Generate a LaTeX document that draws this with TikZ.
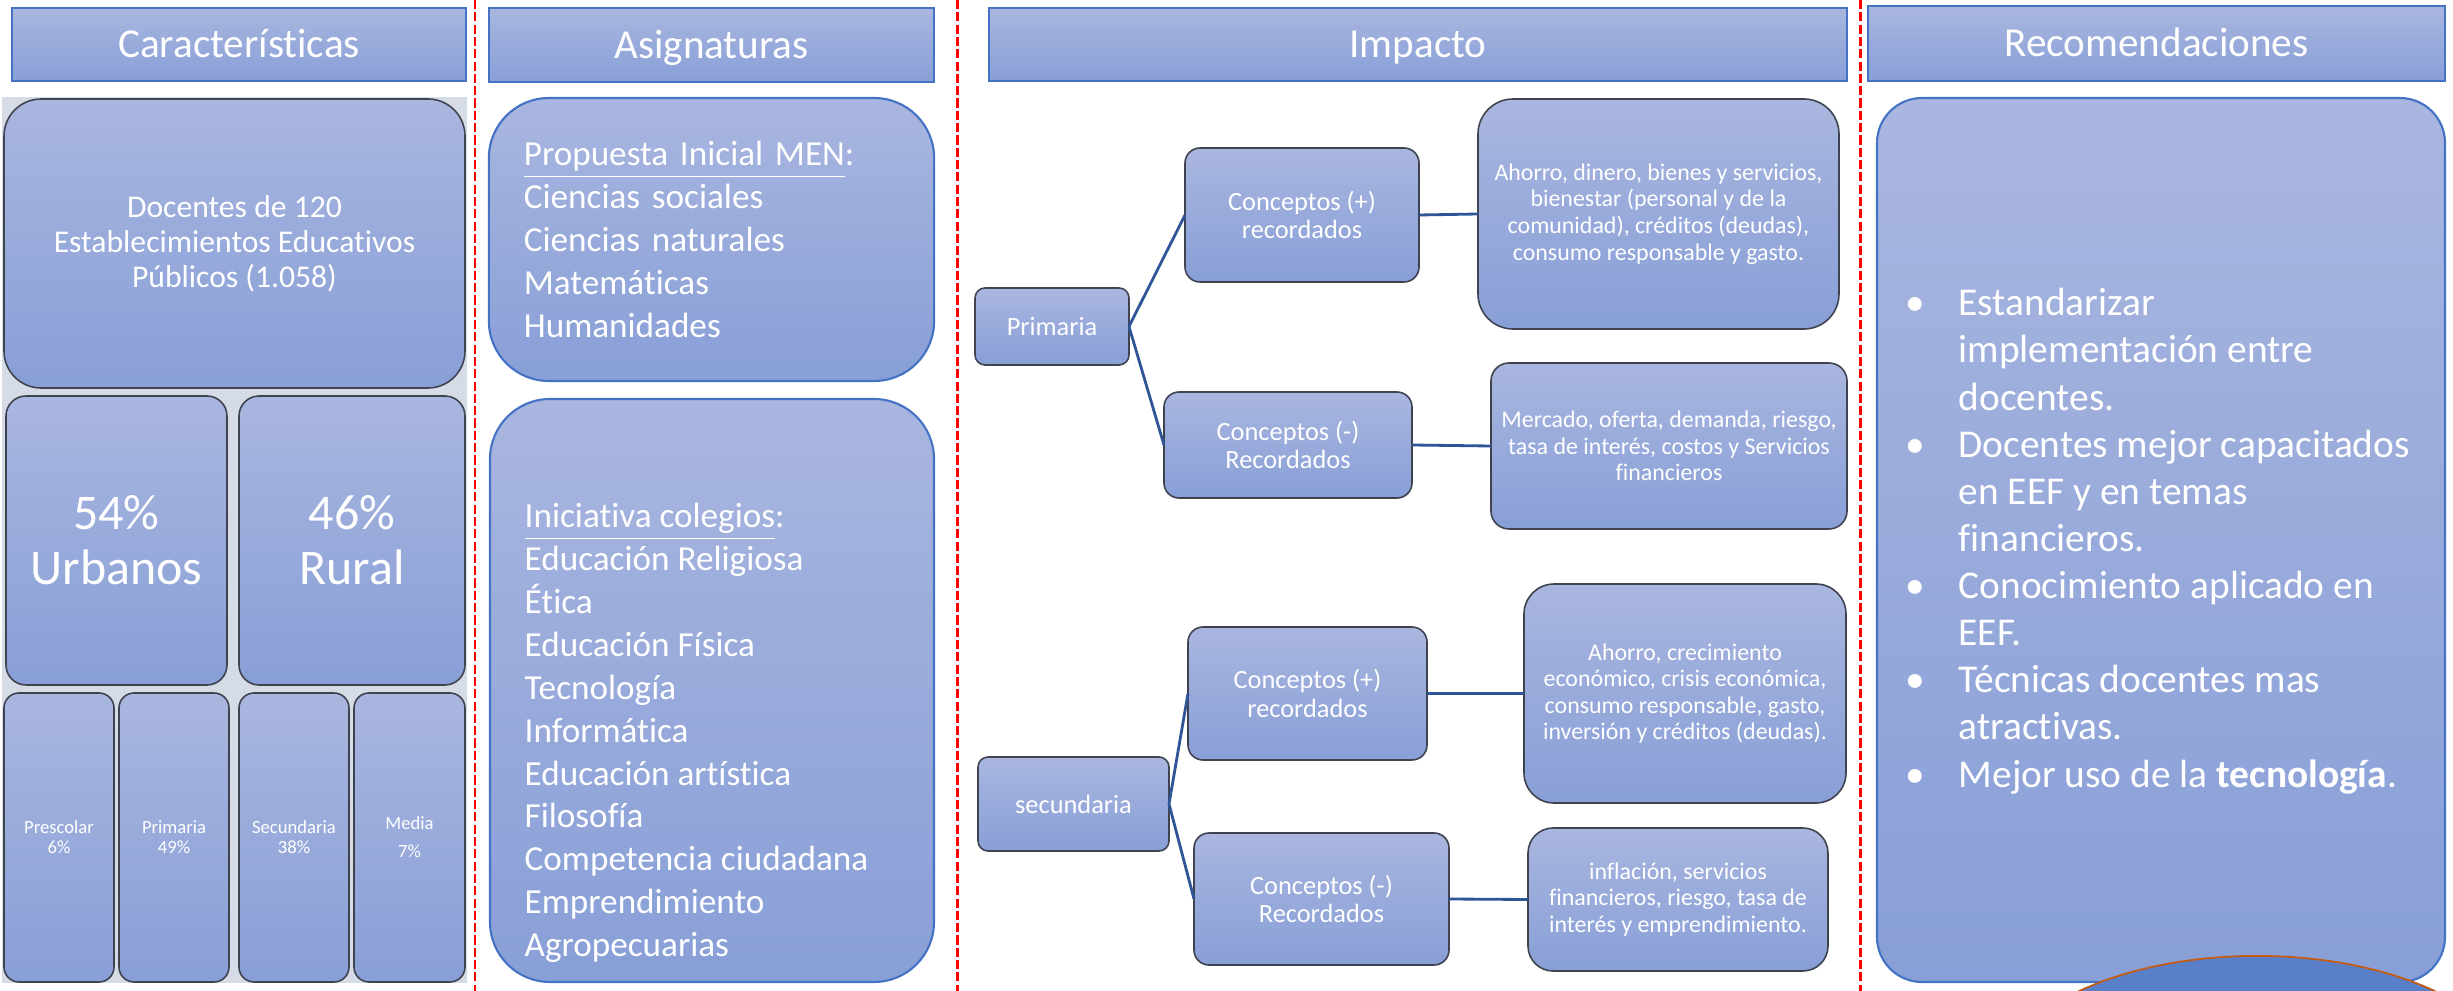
\documentclass[tikz,border=0pt]{standalone}
\usepackage{fontspec}
\setmainfont{Carlito}[Ligatures=NoCommon]
\usetikzlibrary{shapes.geometric}
\definecolor{gtop}{HTML}{A9B6DF}
\definecolor{gbot}{HTML}{889FD7}
\definecolor{bblue}{HTML}{4472C4}
\definecolor{dgray}{HTML}{3F4350}
\definecolor{panelgray}{HTML}{D6DCE5}
\definecolor{conn}{HTML}{2F5597}
\definecolor{ellfill}{HTML}{5A7FC9}
\definecolor{ellline}{HTML}{C55A11}
\newcommand\setfs[2]{\fontsize{#1}{#2}\selectfont}
\newcommand\panelbox[7]{\node[#6, minimum width={(#4-#2)*0.01cm}, minimum height={(#5-#3)*0.01cm}] (#1) at ({(#2+#4)/2},{(#3+#5)/2}) {#7};}
\tikzset{
  grad/.style={top color=gtop, bottom color=gbot, text=white, inner sep=0pt, outer sep=0pt, rectangle, align=center},
  hdr/.style={grad, draw=bblue, line width=0.6pt, font=\setfs{11.7}{14}, text height=0.9em, text depth=0.15em},
  darkbox/.style={grad, draw=dgray, line width=0.45pt},
  bluebox/.style={grad, draw=bblue, line width=0.6pt},
  sep/.style={draw=red, line width=0.85pt, dash pattern=on 2.6pt off 0.9pt},
  link/.style={draw=conn, line width=0.8pt},
  midtxt/.style={font=\setfs{7.5}{8}},
  dettxt/.style={font=\setfs{6.8}{7.55}},
}
\begin{document}
\begin{tikzpicture}[x=0.01cm, y=-0.01cm]
\useasboundingbox (0,0) rectangle (2453,991);
\clip (0,0) rectangle (2453,991);
\fill[white] (0,0) rectangle (2453,991);

% separators
\coordinate (s1t) at (475,0);  \coordinate (s1b) at (475,991);
\coordinate (s2t) at (957.5,0); \coordinate (s2b) at (957.5,991);
\coordinate (s3t) at (1860,0); \coordinate (s3b) at (1860,991);
\draw[sep] (s1t) -- (s1b);
\draw[sep] (s2t) -- (s2b);
\draw[sep] (s3t) -- (s3b);

% headers
\panelbox{h1}{12}{8}{466}{81}{hdr}{Características}
\panelbox{h2}{489}{8}{934}{82}{hdr}{Asignaturas}
\panelbox{h3}{989}{8}{1847}{81}{hdr}{Impacto}
\panelbox{h4}{1868}{6}{2445}{81}{hdr}{Recomendaciones}

% column 1
\fill[panelgray] (2,97) rectangle (467,983);
\panelbox{doc}{4}{99}{465}{388}{darkbox, rounded corners=0.37cm, font=\setfs{9}{10}}{Docentes de 120\\Establecimientos Educativos\\Públicos (1.058)}
\panelbox{urb}{6}{396}{227}{685}{darkbox, rounded corners=0.2cm, font=\setfs{14.2}{15.6}}{54\%\\Urbanos}
\panelbox{rur}{239}{396}{465}{685}{darkbox, rounded corners=0.2cm, font=\setfs{14.2}{15.6}}{46\%\\Rural}
\panelbox{pre}{4}{693}{114}{982}{darkbox, rounded corners=0.15cm, font=\setfs{5.3}{5.7}}{Prescolar\\6\%}
\panelbox{pri}{119}{693}{229}{982}{darkbox, rounded corners=0.15cm, font=\setfs{5.3}{5.7}}{Primaria\\49\%}
\panelbox{secu}{239}{693}{349}{982}{darkbox, rounded corners=0.15cm, font=\setfs{5.3}{5.7}}{Secundaria\\38\%}
\panelbox{med}{354}{693}{465}{982}{darkbox, rounded corners=0.15cm, font=\setfs{5.3}{8}}{Media\\7\%}

% column 2
\panelbox{as1}{489}{98}{934}{381}{bluebox, rounded corners=0.6cm, align=left, text width=3.75cm, inner xsep=0.35cm, font=\setfs{10}{12.2}}{\underline{Propuesta Inicial MEN}:\\Ciencias sociales\\Ciencias naturales\\Matemáticas\\Humanidades}
\panelbox{as2}{490}{399}{934}{982}{bluebox, rounded corners=0.6cm}{}
\node[text=white, anchor=west, align=left, inner sep=0pt, font=\setfs{10}{12.2}] (as2t) at (524,733) {\underline{Iniciativa colegios}:\\Educación Religiosa\\Ética\\Educación Física\\Tecnología\\Informática\\Educación artística\\Filosofía\\Competencia ciudadana\\Emprendimiento\\Agropecuarias};

% column 3
\panelbox{prim}{975}{288}{1129}{365}{darkbox, rounded corners=0.1cm, midtxt}{Primaria}
\panelbox{cp1}{1185}{148}{1419}{282}{darkbox, rounded corners=0.15cm, midtxt}{Conceptos (+)\\recordados}
\panelbox{d1}{1478}{99}{1839}{329}{darkbox, rounded corners=0.35cm, dettxt}{Ahorro, dinero, bienes y servicios,\\bienestar (personal y de la\\comunidad), créditos (deudas),\\consumo responsable y gasto.}
\panelbox{cm1}{1164}{392}{1412}{498}{darkbox, rounded corners=0.15cm, midtxt}{Conceptos (-)\\Recordados}
\panelbox{d2}{1491}{363}{1847}{529}{darkbox, rounded corners=0.18cm, dettxt}{Mercado, oferta, demanda, riesgo,\\tasa de interés, costos y Servicios\\financieros}
\panelbox{sec}{978}{757}{1169}{851}{darkbox, rounded corners=0.1cm, midtxt}{secundaria}
\panelbox{cp2}{1188}{627}{1427}{760}{darkbox, rounded corners=0.15cm, midtxt}{Conceptos (+)\\recordados}
\panelbox{d3}{1524}{584}{1846}{803}{darkbox, rounded corners=0.3cm, dettxt}{Ahorro, crecimiento\\económico, crisis económica,\\consumo responsable, gasto,\\inversión y créditos (deudas).}
\panelbox{cm2}{1194}{833}{1449}{965}{darkbox, rounded corners=0.15cm, midtxt}{Conceptos (-)\\Recordados}
\panelbox{d4}{1528}{828}{1828}{971}{darkbox, rounded corners=0.25cm, dettxt}{inflación, servicios\\financieros, riesgo, tasa de\\interés y emprendimiento.}

\draw[link] (prim.east) -- (cp1.west);
\draw[link] (prim.east) -- (cm1.west);
\draw[link] (cp1.east) -- (d1.west);
\draw[link] (cm1.east) -- (d2.west);
\draw[link] (sec.east) -- (cp2.west);
\draw[link] (sec.east) -- (cm2.west);
\draw[link] (cp2.east) -- (d3.west);
\draw[link] (cm2.east) -- (d4.west);

% column 4
\panelbox{rec}{1877}{98}{2445}{982}{bluebox, rounded corners=0.45cm}{}
\node[text=white, anchor=west, inner sep=0pt, font=\setfs{11.2}{13.4}] (rect) at (1905,542) {%
\begin{tabular}{@{}p{0.53cm}@{}l@{}}
• & Estandarizar\\
  & implementación entre\\
  & docentes.\\
• & Docentes mejor capacitados\\
  & en EEF y en temas\\
  & financieros.\\
• & Conocimiento aplicado en\\
  & EEF.\\
• & Técnicas docentes mas\\
  & atractivas.\\
• & Mejor uso de la \textbf{tecnología}.
\end{tabular}};
\node[ellipse, draw=ellline, fill=ellfill, line width=0.5pt, minimum width=5.2cm, minimum height=2.6cm] (ell) at (2257,1086) {};
\end{tikzpicture}
\end{document}
